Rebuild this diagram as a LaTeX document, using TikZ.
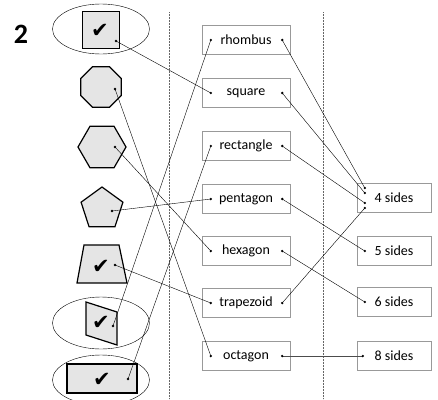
\documentclass[tikz,border=0pt]{standalone}
\usepackage{fontspec}
\setmainfont{Carlito}
\newfontfamily\checkfont{DejaVu Sans}
\usetikzlibrary{shapes.geometric,calc}
\tikzset{
%Style for the word boxes
word/.style={draw=black!40, minimum width=88pt, minimum height=29pt, inner sep=0pt, font=\fontsize{14}{14}\selectfont},
sides/.style={word, minimum width=74pt},
%Style for the grey shapes
figure/.style={draw, line width=1.2pt, fill=black!10, inner sep=0pt, font=\checkfont\fontsize{21}{21}\selectfont},
tick/.style={font=\checkfont\fontsize{21}{21}\selectfont, inner sep=0pt},
ring/.style={draw, ellipse, thin, minimum width=97pt, minimum height=50pt},
connection/.style={black!60, dash pattern=on 0.6pt off 0.9pt},
link/.style={thin},
}

\begin{document}
\begin{tikzpicture}[x=1pt,y=-1pt]
    \useasboundingbox (0,0) rectangle (438,399);
    \node[font=\bfseries\fontsize{28}{28}\selectfont] (number) at (21,34) {2};

    % Dotted separators
    \coordinate (sepAtop) at (169,12);
    \coordinate (sepAbot) at (169,399);
    \coordinate (sepBtop) at (323,12);
    \coordinate (sepBbot) at (323,399);
    \draw[connection] (sepAtop) -- (sepAbot);
    \draw[connection] (sepBtop) -- (sepBbot);

    % Shapes on the left
    \node[ring] (ringA) at (101,29) {};
    \node[figure, rectangle, minimum size=37pt] (sq) at (101,30) {};
    \node[tick] (sqcheck) at (100,31) {✔};
    \node[figure, regular polygon, regular polygon sides=8, minimum size=44pt] (oct) at (101,87) {};
    \node[figure, regular polygon, regular polygon sides=6, minimum size=48pt] (hex) at (102,147) {};
    \node[figure, regular polygon, regular polygon sides=5, minimum size=44pt] (pent) at (102,209) {};
    \draw[figure] (84,245) -- (119,245) -- (127,283) -- (77,283) -- cycle;
    \node[tick] (trapcheck) at (101,267) {✔};
    \node[ring, minimum height=52pt] (ringB) at (101,323) {};
    \draw[figure] (86,302) -- (117,312) -- (117,345) -- (86,335) -- cycle;
    \node[tick] (parcheck) at (101,323) {✔};
    \node[ring] (ringC) at (101,380) {};
    \node[figure, rectangle, minimum width=70pt, minimum height=29pt] (rect) at (102,378.5) {};
    \node[tick] (rectcheck) at (102,380) {✔};

    % Dots in the shapes
    \path
    coordinate (sq-d) at (116,41)
    coordinate (oct-d) at (115,89)
    coordinate (hex-d) at (115,147)
    coordinate (pent-d) at (112,211)
    coordinate (trap-d) at (115,265)
    coordinate (par-d) at (113,326)
    coordinate (rect-d) at (128,379);

    % Names in the middle
    \foreach \name/\y in {rhombus/40, square/93, rectangle/146, pentagon/199, hexagon/251, trapezoid/303, octagon/356} {
      \node[word] (\name) at (246,\y) {\name};
      \coordinate (\name-l) at ([xshift=9pt]\name.west);
      \coordinate (\name-r) at ([xshift=-8pt]\name.east);
    }

    % Number of sides
    \node[sides] (four) at (394,198) {4 sides};
    \node[sides] (five) at (394,251) {5 sides};
    \node[sides] (six) at (394,302) {6 sides};
    \node[sides] (eight) at (394,356) {8 sides};
    \path
    coordinate (four-a) at ([xshift=8pt,yshift=10pt]four.west)
    coordinate (four-b) at ([xshift=8pt,yshift=5pt]four.west)
    coordinate (four-c) at ([xshift=8pt,yshift=-5pt]four.west)
    coordinate (four-d) at ([xshift=8pt,yshift=-10pt]four.west)
    coordinate (five-l) at ([xshift=8pt]five.west)
    coordinate (six-l) at ([xshift=8pt]six.west)
    coordinate (eight-l) at ([xshift=6pt]eight.west);

    % Matching lines
    \draw[link] (sq-d) -- (square-l);
    \draw[link] (oct-d) -- (octagon-l);
    \draw[link] (hex-d) -- (hexagon-l);
    \draw[link] (pent-d) -- (pentagon-l);
    \draw[link] (trap-d) -- (trapezoid-l);
    \draw[link] (par-d) -- (rhombus-l);
    \draw[link] (rect-d) -- (rectangle-l);
    \draw[link] (rhombus-r) -- (four-a);
    \draw[link] (square-r) -- (four-b);
    \draw[link] (rectangle-r) -- (four-c);
    \draw[link] (trapezoid-r) -- (four-d);
    \draw[link] (pentagon-r) -- (five-l);
    \draw[link] (hexagon-r) -- (six-l);
    \draw[link, black!70, line width=0.8pt] (octagon-r) -- (eight-l);

    \foreach \p in {sq-d, oct-d, hex-d, pent-d, trap-d, par-d, rect-d,
      rhombus-l, square-l, rectangle-l, pentagon-l, hexagon-l, trapezoid-l, octagon-l,
      rhombus-r, square-r, rectangle-r, pentagon-r, hexagon-r, trapezoid-r, octagon-r,
      four-a, four-b, four-c, four-d, five-l, six-l, eight-l}
      \fill (\p) circle (1.3pt);
\end{tikzpicture}
\end{document}
